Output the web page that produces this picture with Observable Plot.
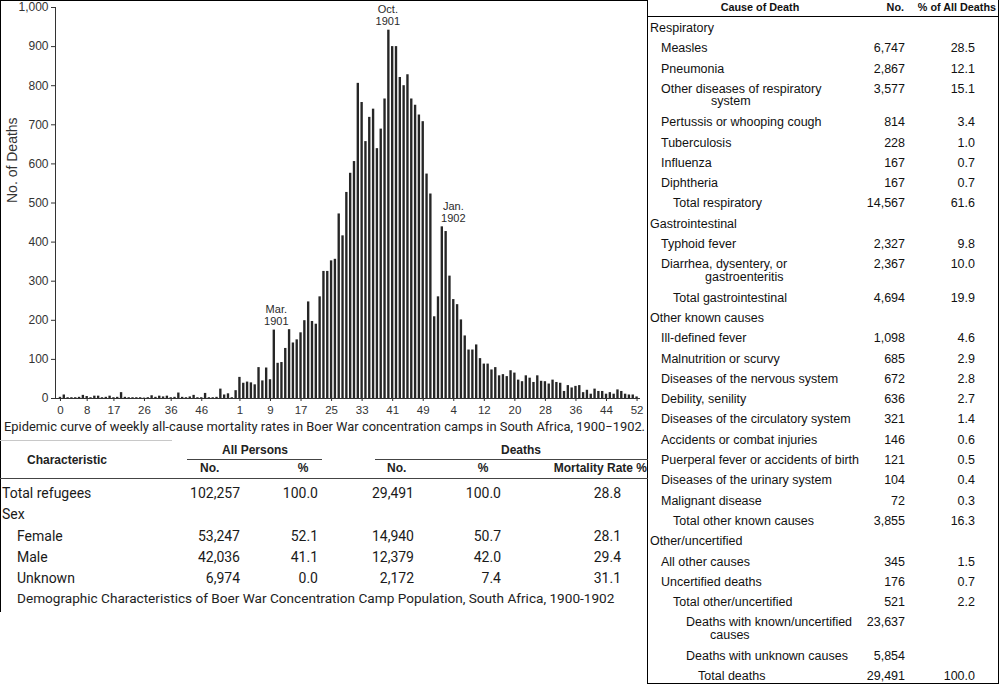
<!DOCTYPE html>
<html><head><meta charset="utf-8">
<script src="https://cdn.jsdelivr.net/npm/d3@7"></script>
<script src="https://cdn.jsdelivr.net/npm/@observablehq/plot@0.6"></script>
<style>
body{margin:0;background:#fff;}
#page{position:relative;width:1000px;height:684px;overflow:hidden;background:#fff;}
#chart{position:absolute;left:0;top:0;}
.t{position:absolute;white-space:nowrap;line-height:1.15;}
.ln{position:absolute;background:#000;}
</style></head><body><div id="page"><div id="chart"></div></div>
<script>
// ---- Epidemic curve data (weekly deaths) ----
const deaths1900 = [3,9,2,2,2,3,8,5,2,6,6,2,3,6,2,3,15,3,2,2,2,2,1,2,7,3,6,4,6,2,3,14,3,2,4,8,2,2,13,2,2,3,24,9,12,2,20];
const deaths1901 = [54,39,42,40,35,79,45,78,48,175,90,92,128,176,142,150,168,199,247,197,190,260,325,325,352,356,472,416,527,576,606,806,757,657,719,740,639,689,766,942,900,900,821,800,828,766,750,725,708,574,523,209,260];
const deaths1902 = [439,427,313,253,240,201,160,124,124,137,102,88,88,73,79,58,61,56,71,65,47,43,58,52,41,58,44,43,37,47,41,39,18,33,27,31,33,15,21,11,24,18,18,11,15,11,22,18,11,9,9,4];
const xTickLabels = ["0","8","17","26","36","46","1","9","17","25","33","41","49","4","12","20","28","36","44","52"];
const xTickBars   = [0,7,14,22,29,37,47,55,63,71,79,87,95,103,111,119,127,135,143,151];
const yTicks = [0,100,200,300,400,500,600,700,800,900,1000];
const annoBars = [56,86,100];
const annoLabels = ["Mar.\n1901","Oct.\n1901","Jan.\n1902"];
const chartCaption = "Epidemic curve of weekly all-cause mortality rates in Boer War concentration camps in South Africa, 1900\u22121902.";

// ---- Demographic table ----
const charLabels = ["Total refugees","Sex","Female","Male","Unknown"];
const charLevels = [0,0,1,1,1];
const allNo    = [102257,null,53247,42036,6974];
const allPct   = [100.0,null,52.1,41.1,0.0];
const deathNo  = [29491,null,14940,12379,2172];
const deathPct = [100.0,null,50.7,42.0,7.4];
const mortRate = [28.8,null,28.1,29.4,31.1];
const demoCaption = "Demographic Characteristics of Boer War Concentration Camp Population, South Africa, 1900-1902";

// ---- Cause of death table ----
const causeLabels = ["Respiratory","Measles","Pneumonia","Other diseases of respiratory\nsystem","Pertussis or whooping cough","Tuberculosis","Influenza","Diphtheria","Total respiratory","Gastrointestinal","Typhoid fever","Diarrhea, dysentery, or\ngastroenteritis","Total gastrointestinal","Other known causes","Ill-defined fever","Malnutrition or scurvy","Diseases of the nervous system","Debility, senility","Diseases of the circulatory system","Accidents or combat injuries","Puerperal fever or accidents of birth","Diseases of the urinary system","Malignant disease","Total other known causes","Other/uncertified","All other causes","Uncertified deaths","Total other/uncertified","Deaths with known/uncertified\ncauses","Deaths with unknown causes","Total deaths"];
const causeNos = [null,6747,2867,3577,814,228,167,167,14567,null,2327,2367,4694,null,1098,685,672,636,321,146,121,104,72,3855,null,345,176,521,23637,5854,29491];
const causePcts = [null,28.5,12.1,15.1,3.4,1.0,0.7,0.7,61.6,null,9.8,10.0,19.9,null,4.6,2.9,2.8,2.7,1.4,0.6,0.5,0.4,0.3,16.3,null,1.5,0.7,2.2,null,null,100.0];
const causeLevels = [0,1,1,1,1,1,1,1,2,0,1,1,2,0,1,1,1,1,1,1,1,1,1,2,0,1,1,2,3,3,4];

// ---------------- chart ----------------
const weekly = [...deaths1900, ...deaths1901, ...deaths1902].map((v, i) => ({i, v}));
const tickMap = new Map(xTickBars.map((b, k) => [b, xTickLabels[k]]));
const annos = annoBars.map((b, k) => ({i: b, v: weekly[b].v, label: annoLabels[k]}));
const annoDx = [2, -1, 11];
const xDom = [-1.3, 151.9];

const chart = Plot.plot({
  width: 648, height: 420,
  marginLeft: 55, marginRight: 8, marginTop: 7, marginBottom: 22,
  style: {fontFamily: "'Liberation Sans', Arial, sans-serif", fontSize: "11px", color: "#333", background: "transparent", overflow: "visible"},
  x: {domain: xDom, axis: null},
  y: {domain: [0, 1000], axis: null},
  marks: [
    Plot.rect(weekly, {x1: d => d.i - 0.31, x2: d => d.i + 0.31, y1: d => 0, y2: "v", fill: "#262626"}),
    Plot.ruleY([0], {stroke: "#333", strokeWidth: 1}),
    Plot.ruleX([xDom[0]], {y1: 0, y2: 1000, stroke: "#333", strokeWidth: 1}),
    Plot.axisY({ticks: yTicks, tickSize: 4, tickPadding: 3, tickFormat: d3.format(","), label: null, fontSize: 12, stroke: "#333", fill: "#333"}),
    Plot.axisX({ticks: xTickBars, tickFormat: d => tickMap.get(d), tickSize: 3, tickPadding: 4, label: null, fontSize: 11.5, stroke: "#333", fill: "#333"}),
    Plot.text(["No. of Deaths"], {frameAnchor: "left", dx: -43, rotate: -90, fontSize: 14, fill: "#333"}),
    ...annos.map((a, k) => Plot.text([a], {x: "i", y: "v", text: "label", lineAnchor: "bottom", dy: -5, dx: annoDx[k], fontSize: 11, lineHeight: 1.12, fill: "#2a2a2a"}))
  ]
});
document.getElementById("chart").appendChild(chart);

// ---------------- text helpers ----------------
const page = document.getElementById("page");
function put(text, x, y, o = {}) {
  const d = document.createElement("div");
  d.className = "t";
  d.textContent = text;
  d.style.left = x + "px";
  d.style.top = y + "px";
  const tx = o.align === "right" ? "-100%" : o.align === "center" ? "-50%" : "0";
  d.style.transform = `translate(${tx},-50%)`;
  d.style.fontFamily = o.font || "Roboto, sans-serif";
  d.style.fontSize = (o.size || 13.5) + "px";
  d.style.fontWeight = o.weight || "normal";
  d.style.color = o.color || "#1a1a1a";
  if (o.spacing) d.style.letterSpacing = o.spacing + "px";
  page.appendChild(d);
}
function line(x, y, w, h, c = "#000") {
  const d = document.createElement("div");
  d.className = "ln";
  Object.assign(d.style, {left: x + "px", top: y + "px", width: w + "px", height: h + "px", background: c});
  page.appendChild(d);
}
const fmtN = d3.format(",");
const fmtP = v => v.toFixed(1);

// borders
line(0, 0, 648, 1);
line(0, 0, 1, 612);
line(647, 0, 1, 684);
line(998, 0, 1, 684);
line(647, 683, 352, 1);

// ---------------- chart caption & demographic table ----------------
put(chartCaption, 4, 427, {size: 12.9, color: "#222"});
line(0, 440, 172, 1, "#c8c8c8");
const hb = {font: "'Liberation Sans', Arial, sans-serif", size: 12, weight: "bold", color: "#222"};
put("All Persons", 255, 451, {...hb, align: "center"});
put("Deaths", 521, 451, {...hb, align: "center"});
line(187, 459, 135, 1, "#444");
line(375, 459, 273, 1, "#444");
put("Characteristic", 67, 461, {...hb, align: "center"});
put("No.", 200, 469, hb);
put("%", 303, 469, {...hb, align: "center"});
put("No.", 387, 469, hb);
put("%", 483, 469, {...hb, align: "center"});
put("Mortality Rate %", 647, 469, {...hb, align: "right"});
line(0, 478, 648, 1, "#444");
const demoY = [493, 514, 536, 557, 578];
charLabels.forEach((lab, k) => {
  const y = demoY[k];
  put(lab, charLevels[k] ? 17 : 2, y, {size: 14});
  if (allNo[k] != null) {
    put(fmtN(allNo[k]), 240, y, {size: 14, align: "right"});
    put(fmtP(allPct[k]), 318, y, {size: 14, align: "right"});
    put(fmtN(deathNo[k]), 414, y, {size: 14, align: "right"});
    put(fmtP(deathPct[k]), 501, y, {size: 14, align: "right"});
    put(fmtP(mortRate[k]), 621, y, {size: 14, align: "right"});
  }
});
put(demoCaption, 17, 599, {size: 13.6, color: "#222"});

// ---------------- cause of death table ----------------
const af = "'Liberation Sans', Arial, sans-serif";
const rh = {font: af, size: 10.8, weight: "bold", color: "#111"};
put("Cause of Death", 760, 7, {...rh, align: "center"});
put("No.", 904, 7, {...rh, align: "right"});
put("% of All Deaths", 996, 7, {...rh, align: "right"});
line(647, 16, 352, 1);
const levelX = [650, 661, 673, 686, 698];
const wrapIndent = {"system": 50, "gastroenteritis": 44, "causes": 24};
let yy = 28;
causeLabels.forEach((lab, k) => {
  const parts = lab.split("\n");
  const x = levelX[causeLevels[k]];
  const o = {font: af, size: 12.5, color: "#111"};
  put(parts[0], x, yy, o);
  if (parts[1]) put(parts[1], x + wrapIndent[parts[1]], yy + 12.5, o);
  if (causeNos[k] != null) put(fmtN(causeNos[k]), 905, yy, {...o, align: "right"});
  if (causePcts[k] != null) put(fmtP(causePcts[k]), 975, yy, {...o, align: "right"});
  yy += 20.3 + (parts[1] ? 13 : 0);
});
</script></body></html>
